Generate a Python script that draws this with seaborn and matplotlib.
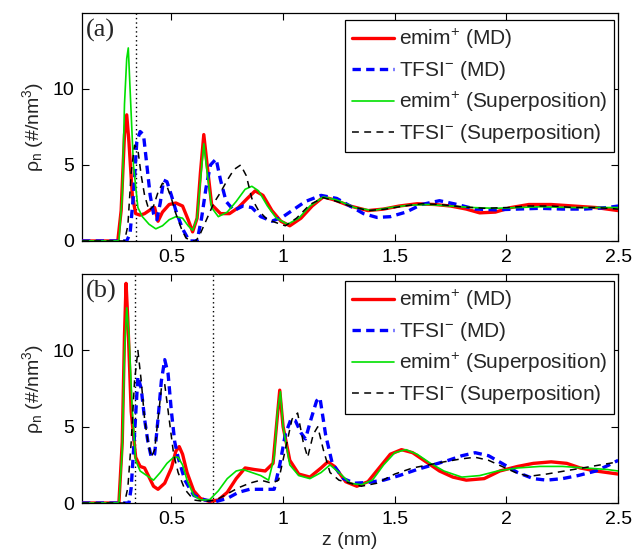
import matplotlib
matplotlib.use("Agg")
import matplotlib.pyplot as plt
import seaborn as sns

# ---------------- data ----------------
# Panel (a)
za_emim_md = [0.10, 0.26, 0.275, 0.29, 0.30, 0.31, 0.325, 0.34, 0.36, 0.38, 0.41, 0.425, 0.44, 0.46,
              0.49, 0.52, 0.55, 0.575, 0.595, 0.615, 0.63, 0.645, 0.66, 0.68, 0.72, 0.76, 0.80,
              0.84, 0.875, 0.91, 0.95, 0.99, 1.03, 1.08, 1.13, 1.18, 1.23, 1.3, 1.38, 1.45, 1.52,
              1.6, 1.68, 1.75, 1.82, 1.88, 1.95, 2.02, 2.1, 2.2, 2.3, 2.4, 2.5]
ya_emim_md = [0, 0, 2.0, 7.0, 8.3, 6.5, 3.0, 1.8, 1.7, 1.8, 2.1, 2.2, 1.3, 1.9,
              2.4, 2.5, 2.3, 1.4, 0.6, 1.5, 4.5, 7.0, 5.0, 2.4, 1.8, 1.8, 2.2,
              2.8, 3.3, 3.0, 2.0, 1.3, 1.0, 1.5, 2.3, 2.9, 2.7, 2.3, 2.0, 2.1, 2.3,
              2.45, 2.4, 2.3, 2.1, 1.85, 1.9, 2.2, 2.4, 2.4, 2.3, 2.2, 2.0]

za_tfsi_md = [0.10, 0.30, 0.315, 0.33, 0.345, 0.36, 0.375, 0.39, 0.405, 0.42, 0.435, 0.45, 0.465,
              0.48, 0.50, 0.52, 0.55, 0.58, 0.615, 0.635, 0.655, 0.675, 0.70, 0.72, 0.745, 0.78,
              0.82, 0.86, 0.90, 0.95, 1.00, 1.05, 1.10, 1.17, 1.24, 1.30, 1.36, 1.42, 1.48, 1.55,
              1.62, 1.70, 1.78, 1.86, 1.95, 2.05, 2.15, 2.25, 2.35, 2.45, 2.50]
ya_tfsi_md = [0, 0, 0.5, 3.0, 6.5, 7.2, 7.0, 5.0, 3.0, 1.8, 1.4, 2.5, 4.0,
              3.9, 3.0, 2.0, 0.8, 0.0, 0.0, 1.5, 3.5, 5.0, 5.4, 4.0, 2.6, 2.0,
              2.3, 2.2, 1.6, 1.3, 1.6, 2.1, 2.6, 3.0, 2.8, 2.3, 1.8, 1.55, 1.6, 1.9,
              2.4, 2.65, 2.4, 2.1, 2.05, 2.1, 2.15, 2.1, 2.1, 2.2, 2.3]

za_emim_sp = [0.10, 0.265, 0.28, 0.29, 0.30, 0.307, 0.315, 0.33, 0.35, 0.37, 0.40, 0.43, 0.46,
              0.49, 0.52, 0.55, 0.575, 0.595, 0.615, 0.63, 0.645, 0.66, 0.68, 0.71, 0.75, 0.79,
              0.83, 0.86, 0.89, 0.93, 0.97, 1.02, 1.07, 1.12, 1.18, 1.24, 1.32, 1.4, 1.48, 1.56,
              1.65, 1.75, 1.85, 1.95, 2.05, 2.15, 2.3, 2.4, 2.5]
ya_emim_sp = [0, 0, 3.0, 9.0, 12.0, 12.7, 10.0, 5.0, 2.2, 1.6, 1.1, 0.8, 1.0,
              1.4, 1.6, 1.5, 1.0, 0.7, 1.5, 4.0, 6.4, 4.5, 2.2, 1.6, 1.9, 2.6,
              3.4, 3.6, 3.3, 2.3, 1.5, 1.1, 1.5, 2.3, 2.9, 2.7, 2.2, 2.0, 2.2, 2.35,
              2.4, 2.3, 2.2, 2.15, 2.2, 2.25, 2.2, 2.2, 2.2]

za_tfsi_sp = [0.10, 0.29, 0.305, 0.32, 0.335, 0.35, 0.365, 0.38, 0.40, 0.42, 0.44, 0.46, 0.48,
              0.50, 0.52, 0.545, 0.565, 0.59, 0.61, 0.63, 0.66, 0.69, 0.72, 0.75, 0.78, 0.81,
              0.835, 0.86, 0.89, 0.93, 0.97, 1.01, 1.06, 1.12, 1.18, 1.24, 1.3, 1.38, 1.46, 1.54,
              1.62, 1.7, 1.8, 1.9, 2.0, 2.1, 2.2, 2.3, 2.4, 2.5]
ya_tfsi_sp = [0, 0, 1.0, 4.5, 6.3, 6.0, 4.3, 3.0, 2.0, 2.3, 3.2, 3.8, 3.6,
              2.8, 1.8, 0.8, 0.2, 0.0, 0.0, 0.5, 1.5, 2.5, 3.2, 4.0, 4.7, 5.0,
              4.3, 2.8, 2.0, 1.4, 1.2, 1.0, 1.5, 2.4, 2.85, 2.6, 2.3, 2.0, 2.1, 2.3,
              2.45, 2.4, 2.25, 2.15, 2.2, 2.3, 2.3, 2.2, 2.2, 2.1]

# Panel (b)
zb_emim_md = [0.10, 0.265, 0.28, 0.29, 0.297, 0.305, 0.32, 0.34, 0.36, 0.38, 0.40, 0.42, 0.44,
              0.47, 0.50, 0.52, 0.535, 0.55, 0.57, 0.60, 0.63, 0.67, 0.71, 0.75, 0.79, 0.83,
              0.87, 0.92, 0.955, 0.97, 0.985, 1.0, 1.03, 1.07, 1.12, 1.17, 1.2, 1.23, 1.28, 1.33,
              1.38, 1.43, 1.48, 1.53, 1.58, 1.64, 1.7, 1.76, 1.82, 1.9, 1.97, 2.05, 2.12, 2.2,
              2.27, 2.33, 2.4, 2.5]
yb_emim_md = [0, 0, 4.0, 11.0, 14.4, 12.0, 6.0, 3.0, 2.4, 2.3, 1.7, 1.1, 0.9,
              1.3, 2.3, 3.4, 3.7, 3.2, 2.0, 0.8, 0.3, 0.1, 0.2, 0.7, 1.6, 2.3,
              2.2, 2.1, 2.6, 5.0, 7.4, 5.0, 2.8, 1.9, 1.7, 2.3, 2.7, 2.4, 1.4, 1.1,
              1.4, 2.3, 3.2, 3.5, 3.3, 2.7, 2.1, 1.7, 1.5, 1.6, 2.1, 2.4, 2.6, 2.7,
              2.6, 2.3, 2.1, 1.9]

zb_tfsi_md = [0.10, 0.31, 0.32, 0.335, 0.35, 0.365, 0.38, 0.395, 0.41, 0.425, 0.44, 0.455, 0.47,
              0.485, 0.50, 0.515, 0.53, 0.56, 0.60, 0.65, 0.70, 0.75, 0.80, 0.85, 0.90, 0.96,
              0.985, 1.01, 1.035, 1.055, 1.08, 1.10, 1.125, 1.15, 1.165, 1.19, 1.22, 1.27, 1.32,
              1.38, 1.45, 1.52, 1.6, 1.67, 1.74, 1.8, 1.86, 1.92, 1.98, 2.05, 2.12, 2.18, 2.25,
              2.32, 2.4, 2.46, 2.5]
yb_tfsi_md = [0, 0, 1.0, 4.5, 8.3, 7.5, 5.5, 4.0, 3.0, 3.2, 5.5, 8.0, 9.4,
              8.5, 6.0, 4.0, 3.0, 1.5, 0.5, 0.2, 0.1, 0.3, 0.7, 0.9, 0.9, 0.9,
              2.5, 4.5, 5.5, 5.4, 4.6, 4.2, 5.5, 6.7, 6.9, 4.5, 2.6, 1.6, 1.3,
              1.35, 1.5, 1.8, 2.2, 2.5, 2.8, 3.1, 3.3, 3.1, 2.6, 2.0, 1.6, 1.5, 1.6,
              1.8, 2.1, 2.5, 2.8]

zb_emim_sp = [0.10, 0.265, 0.28, 0.29, 0.30, 0.31, 0.325, 0.34, 0.36, 0.38, 0.40, 0.42, 0.45,
              0.48, 0.51, 0.53, 0.55, 0.57, 0.60, 0.63, 0.67, 0.71, 0.75, 0.79, 0.82, 0.86,
              0.90, 0.935, 0.96, 0.975, 0.988, 1.0, 1.03, 1.07, 1.12, 1.17, 1.21, 1.25, 1.3,
              1.35, 1.4, 1.45, 1.5, 1.55, 1.6, 1.66, 1.72, 1.8, 1.88, 1.96, 2.05, 2.15, 2.25,
              2.35, 2.45, 2.5]
yb_emim_sp = [0, 0, 3.5, 10.0, 12.8, 11.0, 6.0, 2.8, 2.1, 1.9, 1.7, 1.5, 2.0,
              2.6, 3.0, 3.0, 2.5, 1.5, 0.5, 0.2, 0.2, 0.8, 1.6, 2.1, 2.2, 2.0,
              1.8, 1.5, 3.0, 6.0, 7.3, 5.0, 2.5, 1.8, 1.6, 2.0, 2.5, 2.0, 1.3,
              1.2, 1.5, 2.5, 3.3, 3.5, 3.2, 2.6, 2.1, 1.7, 1.8, 2.1, 2.3, 2.4, 2.4,
              2.3, 2.2, 2.1]

zb_tfsi_sp = [0.10, 0.29, 0.305, 0.32, 0.335, 0.35, 0.365, 0.38, 0.395, 0.41, 0.425, 0.44, 0.455,
              0.47, 0.49, 0.51, 0.53, 0.56, 0.60, 0.65, 0.70, 0.75, 0.80, 0.85, 0.90, 0.95,
              0.98, 1.01, 1.04, 1.065, 1.09, 1.11, 1.135, 1.155, 1.18, 1.21, 1.25, 1.3, 1.35,
              1.42, 1.5, 1.58, 1.65, 1.72, 1.8, 1.86, 1.92, 1.98, 2.04, 2.1, 2.18, 2.26, 2.34,
              2.42, 2.5]
yb_tfsi_sp = [0, 0, 1.0, 4.0, 8.0, 10.0, 8.0, 5.5, 4.0, 3.0, 3.5, 5.5, 7.5,
              7.8, 5.5, 3.2, 2.0, 0.9, 0.2, 0.1, 0.2, 0.6, 1.0, 1.3, 1.5, 1.3,
              1.5, 3.5, 5.5, 5.9, 4.0, 3.0, 4.5, 5.0, 3.5, 2.0, 1.5, 1.3, 1.1,
              1.3, 1.9, 2.3, 2.5, 2.7, 2.9, 3.0, 2.8, 2.4, 2.0, 1.75, 1.9, 2.1, 2.3,
              2.5, 2.7]

dotted_a = [0.34]
dotted_b = [0.335, 0.685]

series_labels = ["emim$^\\mathregular{+}$ (MD)", "TFSI$^\\mathregular{-}$ (MD)",
                 "emim$^\\mathregular{+}$ (Superposition)", "TFSI$^\\mathregular{-}$ (Superposition)"]
panel_labels = ["(a)", "(b)"]
x_ticks = [0.5, 1, 1.5, 2, 2.5]
x_ticklabels = ["0.5", "1", "1.5", "2", "2.5"]
y_ticks = [0, 5, 10]
y_ticklabels = ["0", "5", "10"]
ylabel_text = "ρ$_\\mathregular{n}$ (#/nm$^\\mathregular{3}$)"
xlabel_text = "z (nm)"

# ---------------- style ----------------
sns.set_style("ticks")
plt.rcParams["font.family"] = ["Liberation Sans", "DejaVu Sans"]
plt.rcParams["mathtext.fontset"] = "custom"
plt.rcParams["mathtext.rm"] = "Liberation Sans"
plt.rcParams["mathtext.it"] = "Liberation Sans:italic"
plt.rcParams["axes.linewidth"] = 0.9

styles = [
    dict(color="#ff0000", lw=2.4, ls="-"),
    dict(color="#0000ff", lw=2.4, ls=(0, (2.5, 1.6))),
    dict(color="#00e000", lw=1.2, ls="-"),
    dict(color="#000000", lw=1.1, ls=(0, (4.5, 3.5))),
]

panels = [
    ([(za_emim_md, ya_emim_md), (za_tfsi_md, ya_tfsi_md),
      (za_emim_sp, ya_emim_sp), (za_tfsi_sp, ya_tfsi_sp)], dotted_a),
    ([(zb_emim_md, yb_emim_md), (zb_tfsi_md, yb_tfsi_md),
      (zb_emim_sp, yb_emim_sp), (zb_tfsi_sp, yb_tfsi_sp)], dotted_b),
]

fig = plt.figure(figsize=(6.36, 5.54), dpi=100)
axes = [fig.add_axes([0.129, 0.565, 0.843, 0.4116]),
        fig.add_axes([0.129, 0.092, 0.843, 0.413])]

for ax, (series, dots), plabel in zip(axes, panels, panel_labels):
    for xv in dots:
        ax.axvline(xv, color="black", lw=1.0, ls=(0, (1, 2.2)), zorder=1)
    for (zz, yy), st, lab in zip(series, styles, series_labels):
        assert len(zz) == len(yy)
        sns.lineplot(x=zz, y=yy, ax=ax, color=st["color"], linewidth=st["lw"],
                     linestyle=st["ls"], label=lab, estimator=None, sort=False, zorder=3)
    ax.set_xlim(0.1, 2.5)
    ax.set_ylim(0, 15)
    ax.set_xticks(x_ticks)
    ax.set_xticklabels(x_ticklabels)
    ax.set_yticks(y_ticks)
    ax.set_yticklabels(y_ticklabels)
    ax.tick_params(direction="in", top=True, right=True, length=5, width=0.8,
                   labelsize=14, pad=5.5, colors="black")
    for sp in ax.spines.values():
        sp.set_visible(True)
        sp.set_color("black")
    ax.set_ylabel(ylabel_text, fontsize=14, labelpad=5)
    ax.set_xlabel("")
    ax.text(0.008, 0.975, plabel, transform=ax.transAxes, ha="left", va="top",
            fontsize=19, family="Liberation Serif")
    leg = ax.legend(loc="upper right", bbox_to_anchor=(0.993, 0.97), fontsize=15,
                    frameon=True, fancybox=False, edgecolor="black", framealpha=1,
                    handlelength=2.0, handletextpad=0.25, borderpad=0.35,
                    labelspacing=0.38, borderaxespad=0)
    leg.get_frame().set_linewidth(0.9)

axes[1].set_xlabel(xlabel_text, fontsize=14, labelpad=3)

fig.savefig("out.png", dpi=100)
